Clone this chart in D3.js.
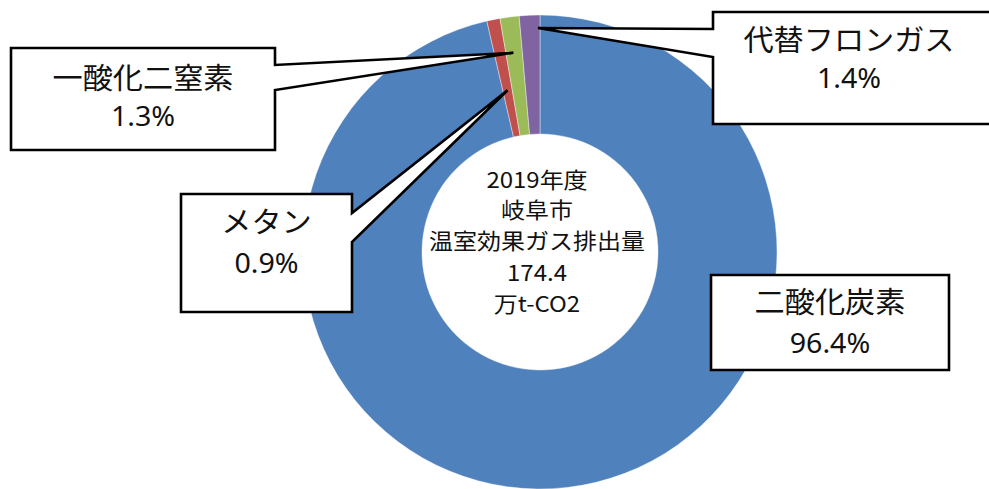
<!DOCTYPE html>
<html><head><meta charset="utf-8">
<script src="https://cdn.jsdelivr.net/npm/d3@7"></script>
<style>
html,body{margin:0;padding:0;background:#fff;}
svg{display:block;}
</style>
</head><body>
<svg id="chart" width="989" height="489"></svg>
<script>
// ---- data ----
const categories = ["二酸化炭素", "メタン", "一酸化二窒素", "代替フロンガス"];
const shares = [96.4, 0.9, 1.3, 1.4];
const colors = ["#4F81BD", "#C0504D", "#9BBB59", "#8064A2"];
const centerLines = ["2019年度", "岐阜市", "温室効果ガス排出量", "174.4", "万t-CO2"];

// ---- layout ----
const W = 989, H = 489;
const cx = 540, cy = 252, rOuter = 237, rInner = 118;
const svg = d3.select("#chart");
svg.append("rect").attr("width", W).attr("height", H).attr("fill", "#fff");

const pie = d3.pie().sort(null).value(d => d).startAngle(0).endAngle(2 * Math.PI);
const arcs = pie(shares);
const arc = d3.arc().innerRadius(rInner).outerRadius(rOuter);

const g = svg.append("g").attr("transform", `translate(${cx},${cy})`);
g.selectAll("path").data(arcs).enter().append("path")
  .attr("d", arc)
  .attr("fill", (d, i) => colors[i])
  .attr("stroke", "#fff").attr("stroke-width", 0.4);

// center text
const ct = svg.append("g").attr("font-family", "'Noto Sans CJK JP', 'Noto Sans', sans-serif")
  .attr("font-size", 24).attr("fill", "#111").attr("text-anchor", "middle");
const ctBase = [188, 218, 249, 281, 312];
centerLines.forEach((t, i) => {
  ct.append("text").attr("x", 537).attr("y", ctBase[i])
    .attr("transform", `translate(537,${ctBase[i]}) scale(1,0.92) translate(-537,${-ctBase[i]})`)
    .text(t);
});

// callouts
const fmt = d => d3.format(".1f")(d) + "%";
const callouts = [
  {i: 0, box: [711, 275, 949, 370], side: null, b1: 313, b2: 353},
  {i: 1, box: [181, 194, 352, 312], side: "right", w: [213, 242], t: 0.5, r: 165, b1: 233, b2: 273},
  {i: 2, box: [11, 48, 275, 150], side: "right", w: [65, 90], t: 0.45, r: 201, b1: 89, b2: 126},
  {i: 3, box: [713, 12, 996, 124], side: "left", w: [29, 57], t: 0.9, r: 224, b1: 51, b2: 88}
];

const cg = svg.append("g");
callouts.forEach(c => {
  const [x0, y0, x1, y1] = c.box;
  let pts;
  if (c.side) {
    const a = arcs[c.i];
    const ang = a.startAngle + (a.endAngle - a.startAngle) * c.t;
    const tx = cx + c.r * Math.sin(ang), ty = cy - c.r * Math.cos(ang);
    if (c.side === "right") {
      pts = [[x0, y0], [x1, y0], [x1, c.w[0]], [tx, ty], [x1, c.w[1]], [x1, y1], [x0, y1]];
    } else {
      pts = [[x0, y0], [x1, y0], [x1, y1], [x0, y1], [x0, c.w[1]], [tx, ty], [x0, c.w[0]]];
    }
  } else {
    pts = [[x0, y0], [x1, y0], [x1, y1], [x0, y1]];
  }
  cg.append("path")
    .attr("d", d3.line()(pts) + "Z")
    .attr("fill", "#fff").attr("stroke", "#000").attr("stroke-width", 2.6)
    .attr("stroke-linejoin", "miter");
  const mx = (x0 + Math.min(x1, 989)) / 2 + (c.i === 3 ? -2 : 0);
  cg.append("text").attr("x", mx).attr("y", c.b1)
    .attr("text-anchor", "middle")
    .attr("font-family", "'Noto Sans CJK JP', 'Noto Sans', sans-serif")
    .attr("font-size", 29).attr("fill", "#111")
    .attr("transform", `translate(${mx},${c.b1}) scale(1.04,1) translate(${-mx},${-c.b1})`)
    .text(categories[c.i]);
  cg.append("text").attr("x", mx).attr("y", c.b2)
    .attr("text-anchor", "middle")
    .attr("font-family", "'Noto Sans', 'Open Sans', sans-serif")
    .attr("font-size", 27).attr("fill", "#111")
    .attr("transform", `translate(${mx},${c.b2}) scale(1.06,1) translate(${-mx},${-c.b2})`)
    .text(fmt(shares[c.i]));
});
</script>
</body></html>
